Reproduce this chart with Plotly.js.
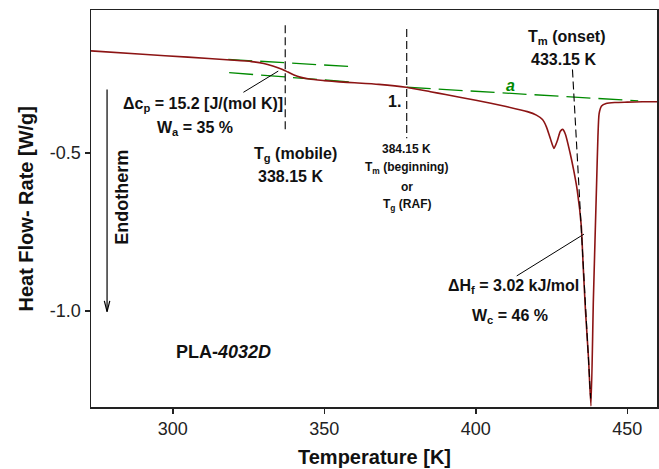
<!DOCTYPE html>
<html>
<head>
<meta charset="utf-8">
<script src="https://cdn.plot.ly/plotly-3.0.1.min.js"></script>
<style>html,body{margin:0;padding:0;background:#fff;}#chart{width:659px;height:469px;}</style>
</head>
<body>
<div id="chart"></div>
<script>
// DSC heating curve of PLA-4032D
const temperature = [273, 290, 305, 319, 326, 330, 333, 336, 338, 340, 342, 345, 350, 355, 360, 368, 377, 385, 390, 400, 410, 417, 420, 422, 423.3, 424.6, 425.8, 426.9, 427.9, 428.7, 429.6, 431.1, 432.3, 433.5, 434.8, 435.4, 436.2, 437.2, 438.0, 438.8, 439.9, 440.3, 440.7, 441.5, 443.0, 446, 450, 455, 460];
const heatFlow    = [-0.178, -0.189, -0.198, -0.207, -0.212, -0.218, -0.226, -0.236, -0.245, -0.254, -0.261, -0.267, -0.272, -0.276, -0.279, -0.284, -0.293, -0.307, -0.316, -0.334, -0.354, -0.370, -0.381, -0.395, -0.418, -0.455, -0.486, -0.462, -0.432, -0.426, -0.442, -0.500, -0.555, -0.620, -0.730, -0.850, -1.000, -1.150, -1.300, -0.965, -0.586, -0.450, -0.376, -0.352, -0.344, -0.341, -0.340, -0.339, -0.339];

// construction lines
const tgUpperT = [318.3, 359.2], tgUpperHF = [-0.205, -0.228];
const tgLowerT = [318.6, 358.5], tgLowerHF = [-0.247, -0.276];
const baseAT = [377.2, 453.6], baseAHF = [-0.293, -0.336];
const onsetT = [431.9, 437.9], onsetHF = [-0.237, -1.276];
const tgMobileT = [337.1, 337.1], tgMobileHF = [-0.097, -0.428];
const rafT = [377.2, 377.2], rafHF = [-0.109, -0.454];
const dcpLeaderT = [323.3, 334.8], dcpLeaderHF = [-0.309, -0.242];
const dhLeaderT = [413.5, 435.7], dhLeaderHF = [-0.889, -0.757];
const endoT = [278.3, 278.3], endoHF = [-0.300, -1.002];
const endoHeadT = [277.4, 278.3, 279.2], endoHeadHF = [-0.968, -1.002, -0.968];

const xTicks = [300, 350, 400, 450];
const yTicks = [-1.0, -0.5];
const yTickText = ['-1.0', '-0.5'];

const FONT = 'Liberation Sans, Arial, sans-serif';
const red = '#8c1414', green = '#008a00';

function ln(x, y, color, dash, width) {
  return {x: x, y: y, mode: 'lines', type: 'scatter', hoverinfo: 'skip', showlegend: false,
          line: {color: color, dash: dash || 'solid', width: width || 1}};
}

const traces = [
  ln(tgUpperT, tgUpperHF, green, '24px,8px', 1.3),
  ln(tgLowerT, tgLowerHF, green, '24px,8px', 1.3),
  ln(baseAT, baseAHF, green, '24px,8px', 1.3),
  {x: temperature, y: heatFlow, mode: 'lines', type: 'scatter', showlegend: false,
   line: {color: red, width: 1.6, shape: 'spline', smoothing: 0.6}},
  ln(onsetT, onsetHF, '#000', '8px,4px', 1.1),
  ln(tgMobileT, tgMobileHF, '#000', '8px,4px', 1.1),
  ln(rafT, rafHF, '#000', '8px,4px', 1.1),
  ln(dcpLeaderT, dcpLeaderHF, '#000', 'solid', 1),
  ln(dhLeaderT, dhLeaderHF, '#000', 'solid', 1),
  ln(endoT, endoHF, '#000', 'solid', 1.2),
  ln(endoHeadT, endoHeadHF, '#000', 'solid', 1.2)
];

function ann(x, y, text, size, extra) {
  return Object.assign({x: x, y: y, xref: 'x', yref: 'y', text: text, showarrow: false,
    xanchor: 'center', yanchor: 'middle',
    font: {family: FONT, size: size, color: '#111', weight: 'bold'}}, extra || {});
}

const annotations = [
  ann(310.1, -0.346, 'Δc<sub>p</sub> = 15.2 [J/(mol K)]', 16),
  ann(307.4, -0.422, 'W<sub>a</sub> = 35 %', 16),
  ann(340.4, -0.504, 'T<sub>g</sub> (mobile)', 16),
  ann(338.75, -0.574, '338.15 K', 16),
  ann(373.1, -0.339, '1.', 16),
  ann(377.2, -0.488, '384.15 K', 12),
  ann(377.2, -0.549, 'T<sub>m</sub> (beginning)', 12),
  ann(377.2, -0.607, 'or', 12),
  ann(377.2, -0.665, 'T<sub>g</sub> (RAF)', 12),
  ann(411.3, -0.286, '<i>a</i>', 16, {font: {family: FONT, size: 16, color: green, weight: 'bold'}}),
  ann(430.0, -0.135, 'T<sub>m</sub> (onset)', 16),
  ann(429.1, -0.205, '433.15 K', 16),
  ann(412.4, -0.923, 'ΔH<sub>f</sub> = 3.02 kJ/mol', 16),
  ann(411.3, -1.016, 'W<sub>c</sub> = 46 %', 16),
  ann(300.3, -1.130, 'PLA-<i>4032D</i>', 18, {xanchor: 'left'}),
  ann(283.2, -0.639, 'Endotherm', 18, {textangle: -90}),
  {xref: 'paper', yref: 'paper', x: -0.1165, y: 0.5, text: 'Heat Flow- Rate [W/g]', showarrow: false,
   textangle: -90, xanchor: 'center', yanchor: 'middle',
   font: {family: FONT, size: 20, color: '#111', weight: 'bold'}},
  {xref: 'paper', yref: 'paper', x: 0.5, y: -0.125, text: 'Temperature [K]', showarrow: false,
   xanchor: 'center', yanchor: 'middle',
   font: {family: FONT, size: 20, color: '#111', weight: 'bold'}}
];

const axisCommon = {showgrid: false, zeroline: false, showline: true, mirror: true,
  linecolor: '#222', linewidth: 1.5, ticks: 'outside', ticklen: 5, tickwidth: 1.5,
  tickcolor: '#222', tickfont: {family: FONT, size: 18, color: '#222'}};

const layout = {
  width: 659, height: 469,
  margin: {l: 91, r: 2, t: 10, b: 62, pad: 0},
  paper_bgcolor: '#fff', plot_bgcolor: '#fff',
  showlegend: false,
  xaxis: Object.assign({}, axisCommon, {range: [273, 459.8], tickvals: xTicks}),
  yaxis: Object.assign({}, axisCommon, {range: [-1.303, -0.049], tickvals: yTicks, ticktext: yTickText}),
  annotations: annotations
};

Plotly.newPlot('chart', traces, layout, {staticPlot: true, displayModeBar: false});
</script>
</body>
</html>
